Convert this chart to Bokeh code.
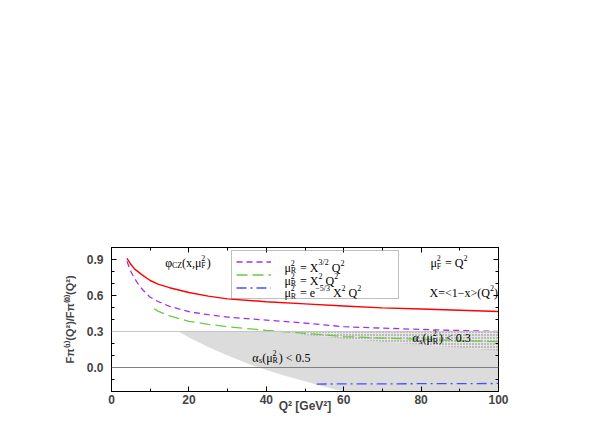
from bokeh.plotting import figure
from bokeh.models import (Label, Span, LinearAxis, FixedTicker, CustomJSTickFormatter,
                          Legend, LegendItem)
from bokeh.embed import file_html
from bokeh.resources import INLINE

# ---------------- data ----------------
q2_red = [4, 5, 6, 7, 8, 10, 12, 15, 20, 25, 30, 40, 50, 60, 70, 80, 90, 100]
r_red = [0.91, 0.86, 0.82, 0.795, 0.77, 0.725, 0.695, 0.665, 0.625, 0.595, 0.572,
         0.548, 0.53, 0.513, 0.497, 0.487, 0.477, 0.467]

q2_purple = [4, 5, 6, 7, 8, 10, 12, 15, 20, 25, 30, 40, 50, 60, 70, 80, 90, 100]
r_purple = [0.885, 0.80, 0.74, 0.69, 0.65, 0.585, 0.55, 0.51, 0.465, 0.44, 0.42,
            0.395, 0.37, 0.34, 0.328, 0.317, 0.308, 0.30]

q2_green = [11, 12, 15, 20, 25, 30, 40, 50, 60, 70, 80, 90, 100]
r_green = [0.49, 0.47, 0.43, 0.385, 0.36, 0.34, 0.31, 0.285, 0.258, 0.245, 0.235,
           0.225, 0.215]

q2_blue = [53, 60, 70, 80, 90, 100]
r_blue = [-0.138, -0.137, -0.136, -0.135, -0.134, -0.133]

# alpha_s < 0.5 band (gray): lower edge, upper edge at 0.3
q2_band05 = [17.3, 20, 25, 30, 35, 40, 45, 50, 55, 60, 100]
lo_band05 = [0.3, 0.25, 0.17, 0.1, 0.035, -0.02, -0.07, -0.115, -0.16, -0.2, -0.2]
hi_band05 = [0.3] * len(q2_band05)

# alpha_s < 0.3 band (dotted)
q2_band03 = [45, 50, 60, 70, 80, 90, 100]
lo_band03 = [0.3, 0.27, 0.24, 0.215, 0.19, 0.165, 0.14]
hi_band03 = [0.3] * len(q2_band03)

x_ticks = [0, 20, 40, 60, 80, 100]
x_minor = [0, 10, 20, 30, 40, 50, 60, 70, 80, 90, 100]
y_ticks = [0.0, 0.3, 0.6, 0.9]
y_minor = [-0.2, -0.1, 0.0, 0.1, 0.2, 0.3, 0.4, 0.5, 0.6, 0.7, 0.8, 0.9, 1.0]

# ---------------- figure ----------------
p = figure(width=591, height=428, x_range=(0, 100), y_range=(-0.2, 1.0),
           output_backend="svg", toolbar_location=None,
           min_border_left=111, min_border_right=93, min_border_top=247,
           min_border_bottom=37)
p.xgrid.visible = False
p.ygrid.visible = False
p.outline_line_color = "black"
p.background_fill_color = "white"
p.border_fill_color = "white"

# bands
p.varea(x=q2_band05, y1=lo_band05, y2=hi_band05, fill_color="#dcdcdc")
p.varea(x=q2_band03, y1=lo_band03, y2=hi_band03, fill_color="#e6e6e6",
        hatch_pattern="dot", hatch_color="#7a7a7a", hatch_scale=3, hatch_weight=1)

p.add_layout(Span(location=0.3, dimension="width", line_color="#c8c4c4", line_width=1))
p.add_layout(Span(location=0.0, dimension="width", line_color="#808080", line_width=1))

# curves
p.line(q2_red, r_red, line_color="#ff0000", line_width=1.4)
lp = p.line(q2_purple, r_purple, line_color="#a030f0", line_width=1.3, line_dash="6 4")
lg = p.line(q2_green, r_green, line_color="#66cc44", line_width=1.3, line_dash="11 5")
lb = p.line(q2_blue, r_blue, line_color="#4d4dff", line_width=1.3, line_dash="10 4 2 4")

# axes
tick_font = "Liberation Sans"
for ax in (p.xaxis[0], p.yaxis[0]):
    ax.major_tick_in = 5
    ax.major_tick_out = 0
    ax.minor_tick_in = 3
    ax.minor_tick_out = 0
    ax.axis_line_color = "black"
    ax.major_label_text_font = tick_font
    ax.major_label_text_font_style = "bold"
    ax.major_label_text_font_size = "12px"
    ax.axis_label_text_font = tick_font
    ax.axis_label_text_font_style = "bold"
    ax.axis_label_text_font_size = "12px"

p.xaxis.ticker = FixedTicker(ticks=x_ticks, minor_ticks=x_minor)
p.yaxis.ticker = FixedTicker(ticks=y_ticks, minor_ticks=y_minor)
p.yaxis.formatter = CustomJSTickFormatter(code="return tick.toFixed(1);")
p.xaxis.major_label_standoff = 3
p.yaxis.major_label_standoff = 8
p.xaxis.axis_label = "Q² [GeV²]"
p.xaxis.axis_label_standoff = -8
p.yaxis.axis_label = "Fπ⁽¹⁾(Q²)/Fπ⁽⁰⁾(Q²)"
p.yaxis.axis_label_text_font_size = "11px"
p.yaxis.axis_label_standoff = 8

blank = CustomJSTickFormatter(code="return '';")
top = LinearAxis(ticker=FixedTicker(ticks=x_ticks, minor_ticks=x_minor), formatter=blank,
                 major_tick_in=5, major_tick_out=0, minor_tick_in=3, minor_tick_out=0)
right = LinearAxis(ticker=FixedTicker(ticks=y_ticks, minor_ticks=y_minor), formatter=blank,
                   major_tick_in=5, major_tick_out=0, minor_tick_in=3, minor_tick_out=0)
p.add_layout(top, "above")
p.add_layout(right, "right")

# legend (labels drawn separately as rich text; transparent box so they show)
legend = Legend(items=[LegendItem(label=" ", renderers=[lp]),
                       LegendItem(label=" ", renderers=[lg]),
                       LegendItem(label=" ", renderers=[lb])],
                location=(120, 92), padding=4, spacing=0, glyph_width=35,
                glyph_height=13, label_height=13, label_width=118,
                label_standoff=5, label_text_font_size="8px",
                border_line_color="#808080", border_line_width=1,
                background_fill_alpha=0.0)
p.add_layout(legend, "center")

# ---------------- rich text helper ----------------
W = {'φ': 0.55, 'μ': 0.52, 'α': 0.56, 'C': 0.667, 'Z': 0.611, 'R': 0.667, 'F': 0.556,
     's': 0.389, '(': 0.333, ')': 0.333, 'x': 0.5, ',': 0.25, '2': 0.5, '3': 0.5,
     '/': 0.278, '5': 0.5, '=': 0.564, ' ': 0.25, 'X': 0.722, 'Q': 0.722, 'e': 0.444,
     '−': 0.564, '<': 0.564, '>': 0.564, '1': 0.5, '.': 0.25, '0': 0.5}
MAIN, SMALL = 12, 8
SERIF = "Liberation Serif"


def tw(s, size):
    return sum(W.get(c, 0.5) for c in s) * size


def lab(x, y, dx, dy, txt, size):
    lead = len(txt) - len(txt.lstrip(" "))
    dx = dx + lead * W[" "] * size
    p.add_layout(Label(x=x, y=y, x_offset=dx, y_offset=dy, text=txt.strip(" "),
                       text_font=SERIF, text_font_size=f"{size}px",
                       text_baseline="alphabetic", text_align="left",
                       text_color="black", level="overlay"))


def rich(x, y, parts):
    dx = 0.0
    for part in parts:
        kind = part[0]
        if kind == "n":
            lab(x, y, dx, 0, part[1], MAIN)
            dx += tw(part[1], MAIN)
        elif kind == "sub":
            lab(x, y, dx, -3, part[1], SMALL)
            dx += tw(part[1], SMALL)
        elif kind == "sup":
            lab(x, y, dx, 5, part[1], SMALL)
            dx += tw(part[1], SMALL)
        elif kind == "ss":
            lab(x, y, dx, -3, part[1], SMALL)
            lab(x, y, dx, 5, part[2], SMALL)
            dx += max(tw(part[1], SMALL), tw(part[2], SMALL)) + 1


rich(13.9, 0.875, [("n", "φ"), ("sub", "CZ"), ("n", "(x,μ"), ("ss", "F", "2"), ("n", ")")])
rich(82.4, 0.867, [("n", "μ"), ("ss", "F", "2"), ("n", " = Q"), ("sup", "2")])
rich(82.2, 0.625, [("n", "X=<1−x>(Q"), ("sup", "2"), ("n", ")")])
rich(77.8, 0.242, [("n", "α"), ("sub", "s"), ("n", "(μ"), ("ss", "R", "2"), ("n", ") < 0.3")])
rich(36.4, 0.083, [("n", "α"), ("sub", "s"), ("n", "(μ"), ("ss", "R", "2"), ("n", ") < 0.5")])

rich(44.7, 0.833, [("n", "μ"), ("ss", "R", "2"), ("n", " = X"), ("sup", "3/2"), ("n", " Q"), ("sup", "2")])
rich(44.7, 0.725, [("n", "μ"), ("ss", "R", "2"), ("n", " = X"), ("sup", "2"), ("n", " Q"), ("sup", "2")])
rich(44.7, 0.617, [("n", "μ"), ("ss", "R", "2"), ("n", " = e"), ("sup", "−5/3"), ("n", " X"),
                   ("sup", "2"), ("n", " Q"), ("sup", "2")])

open("out.html", "w").write(file_html(p, INLINE))
